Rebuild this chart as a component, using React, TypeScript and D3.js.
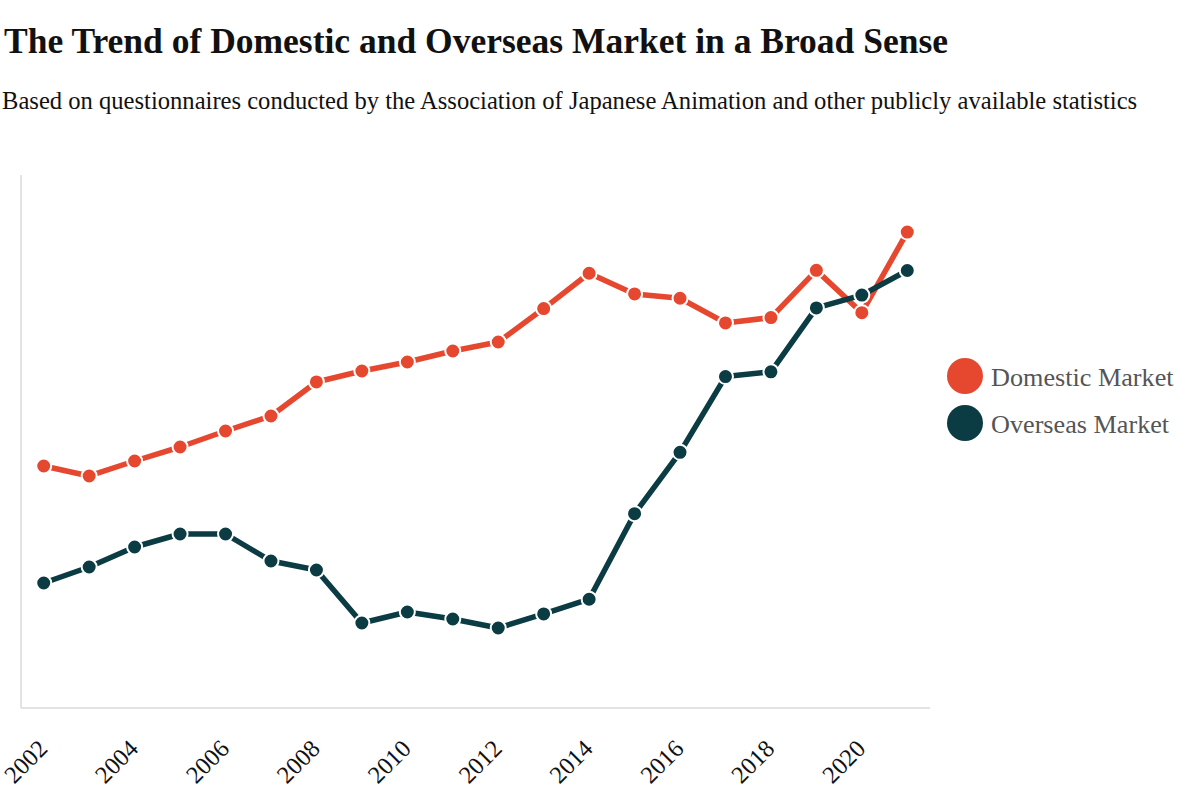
import React from "react";
import * as d3 from "d3";

const years = [2002, 2003, 2004, 2005, 2006, 2007, 2008, 2009, 2010, 2011, 2012, 2013, 2014, 2015, 2016, 2017, 2018, 2019, 2020, 2021];
const domestic = [7265, 6965, 7415, 7835, 8315, 8766, 9787, 10117, 10387, 10717, 10987, 11990, 13050, 12430, 12300, 11560, 11720, 13137, 11867, 14288];
const overseas = [3753, 4233, 4833, 5223, 5223, 4413, 4143, 2552, 2882, 2672, 2402, 2823, 3265, 5833, 7676, 9948, 10092, 12009, 12394, 13134];
const tickYears = [2002, 2004, 2006, 2008, 2010, 2012, 2014, 2016, 2018, 2020];
const seriesNames = ["Domestic Market", "Overseas Market"];
const colors = ["#e5482f", "#0b3b43"];

const W = 1200;
const H = 800;
const left = 21;
const right = 930;
const top = 175;
const bottom = 708;
const font = "'Liberation Serif', 'Times New Roman', serif";

export default function App() {
  const x = d3.scalePoint<number>().domain(years).range([left, right]).padding(0.5);
  const y = d3.scaleLinear().domain([0, 16000]).range([bottom, top]);
  const series = [domestic, overseas];
  const line = d3
    .line<number>()
    .x((_, i) => x(years[i]) as number)
    .y((d) => y(d));

  return (
    <svg width={W} height={H} style={{ position: "absolute", left: 0, top: 0, background: "#fff" }} fontFamily={font}>
      <text x={4} y={53} fontSize={35.5} fontWeight="bold" fill="#111">
        The Trend of Domestic and Overseas Market in a Broad Sense
      </text>
      <text x={2} y={109} fontSize={24.6} fill="#111">
        Based on questionnaires conducted by the Association of Japanese Animation and other publicly available statistics
      </text>
      <line x1={left} x2={left} y1={top} y2={bottom} stroke="#e3e3e3" strokeWidth={2} />
      <line x1={left} x2={right} y1={bottom} y2={bottom} stroke="#e3e3e3" strokeWidth={2} />
      {tickYears.map((t) => (
        <text
          key={t}
          transform={`translate(${(x(t) as number) - 1},${bottom + 36}) rotate(-45)`}
          textAnchor="end"
          dy="0.35em"
          fontSize={24.5}
          fill="#111"
        >
          {t}
        </text>
      ))}
      {series.map((s, k) => (
        <g key={k}>
          <path d={line(s) || ""} fill="none" stroke={colors[k]} strokeWidth={5.5} strokeLinejoin="round" />
          {s.map((v, i) => (
            <circle key={i} cx={x(years[i]) as number} cy={y(v)} r={7.5} fill={colors[k]} stroke="#fff" strokeWidth={2} />
          ))}
        </g>
      ))}
      {seriesNames.map((n, k) => (
        <g key={n} transform={`translate(965,${376 + k * 47})`}>
          <circle r={18} fill={colors[k]} />
          <text x={26} y={10} fontSize={26.2} fill="#555">
            {n}
          </text>
        </g>
      ))}
    </svg>
  );
}
